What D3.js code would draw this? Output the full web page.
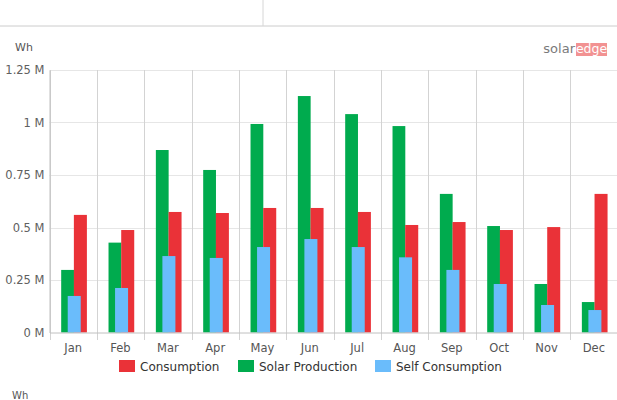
<!DOCTYPE html>
<html>
<head>
<meta charset="utf-8">
<script src="https://cdn.jsdelivr.net/npm/d3@7"></script>
<style>
  body { margin: 0; background: #fff; }
  svg { display: block; font-family: "DejaVu Sans", sans-serif; }
</style>
</head>
<body>
<script>
const months = ['Jan','Feb','Mar','Apr','May','Jun','Jul','Aug','Sep','Oct','Nov','Dec']
const consumption = [0.560, 0.488, 0.574, 0.569, 0.593, 0.593, 0.574, 0.512, 0.526, 0.488, 0.502, 0.660]
const production = [0.298, 0.428, 0.869, 0.774, 0.993, 1.126, 1.040, 0.983, 0.660, 0.507, 0.231, 0.145]
const selfConsumption = [0.174, 0.212, 0.364, 0.355, 0.407, 0.445, 0.407, 0.358, 0.298, 0.231, 0.131, 0.107]
const yTicks = [0, 0.25, 0.5, 0.75, 1, 1.25]
const seriesNames = ['Consumption', 'Solar Production', 'Self Consumption']

const width = 617, height = 400
const red = '#ea3238', green = '#00ab4e', blue = '#6abcfb'

var svg = d3.select('body').append('svg')
  .attr('width', width).attr('height', height)

// top strip remnants
svg.append('line').attr('x1', 0).attr('x2', width).attr('y1', 26).attr('y2', 26)
  .attr('stroke', '#ccc')
svg.append('line').attr('x1', 263).attr('x2', 263).attr('y1', 0).attr('y2', 26)
  .attr('stroke', '#d6d6d6')

var x = d3.scaleBand().domain(months).range([49.5, 617.5])
var y = d3.scaleLinear().domain([0, 1.25]).range([332.5, 70])
var bw = x.bandwidth()

// horizontal grid
svg.append('g').selectAll('line').data(yTicks.slice(1)).join('line')
  .attr('x1', 49.5).attr('x2', width)
  .attr('y1', d => Math.round(y(d)) + 0.5).attr('y2', d => Math.round(y(d)) + 0.5)
  .attr('stroke', '#e6e6e6')

// vertical grid at category boundaries
svg.append('g').selectAll('line').data(months).join('line')
  .attr('x1', d => Math.round(x(d)) + 0.5).attr('x2', d => Math.round(x(d)) + 0.5)
  .attr('y1', 70).attr('y2', 340)
  .attr('stroke', '#d3d3d3')

// bars
svg.append('g').selectAll('rect').data(production).join('rect')
  .attr('x', (d, i) => x(months[i]) + bw * 0.247)
  .attr('width', bw * 0.27)
  .attr('y', d => y(d)).attr('height', d => y(0) - y(d))
  .attr('fill', green)

svg.append('g').selectAll('rect').data(consumption).join('rect')
  .attr('x', (d, i) => x(months[i]) + bw * 0.515)
  .attr('width', bw * 0.275)
  .attr('y', d => y(d)).attr('height', d => y(0) - y(d))
  .attr('fill', red)

svg.append('g').selectAll('rect').data(selfConsumption).join('rect')
  .attr('x', (d, i) => x(months[i]) + bw * 0.385)
  .attr('width', bw * 0.275)
  .attr('y', d => y(d)).attr('height', d => y(0) - y(d))
  .attr('fill', blue)

// x axis
var xAxis = svg.append('g')
  .attr('transform', 'translate(0,' + 332.5 + ')')
  .call(d3.axisBottom(x).tickSize(0).tickPadding(11))
xAxis.select('.domain').attr('stroke', '#c0c0c0')
xAxis.selectAll('text').attr('font-size', 11.5).attr('fill', '#555')
  .attr('font-family', '"DejaVu Sans", sans-serif')

// y axis
var yAxis = svg.append('g')
  .attr('transform', 'translate(49.5,0)')
  .call(d3.axisLeft(y).tickValues(yTicks).tickSize(0).tickPadding(5)
    .tickFormat(d => d3.format('~g')(d) + ' M'))
yAxis.select('.domain').attr('stroke', '#c0c0c0')
yAxis.selectAll('text').attr('font-size', 11.5).attr('fill', '#606060')
  .attr('font-family', '"DejaVu Sans", sans-serif')

// unit labels
svg.append('text').attr('x', 15).attr('y', 51).text('Wh')
  .attr('font-size', 11).attr('fill', '#555')
svg.append('text').attr('x', 12).attr('y', 399).text('Wh')
  .attr('font-size', 10).attr('fill', '#555')

// logo
svg.append('text').attr('x', 575).attr('y', 53).attr('text-anchor', 'end')
  .text('solar').attr('font-size', 13).attr('fill', '#7a7a7a')
svg.append('rect').attr('x', 576).attr('y', 43).attr('width', 31).attr('height', 13)
  .attr('fill', '#f29292')
svg.append('text').attr('x', 591.5).attr('y', 53).attr('text-anchor', 'middle')
  .text('edge').attr('font-size', 12.5).attr('fill', '#fff')

// legend
var legendX = [119, 238, 375]
var legendColors = [red, green, blue]
var legend = svg.append('g').selectAll('g').data(seriesNames).join('g')
  .attr('transform', (d, i) => 'translate(' + legendX[i] + ',360)')
legend.append('rect').attr('width', 16).attr('height', 12)
  .attr('fill', (d, i) => legendColors[i])
legend.append('text').attr('x', 21).attr('y', 10.5).text(d => d)
  .attr('font-size', 12).attr('fill', '#333')
</script>
</body>
</html>
